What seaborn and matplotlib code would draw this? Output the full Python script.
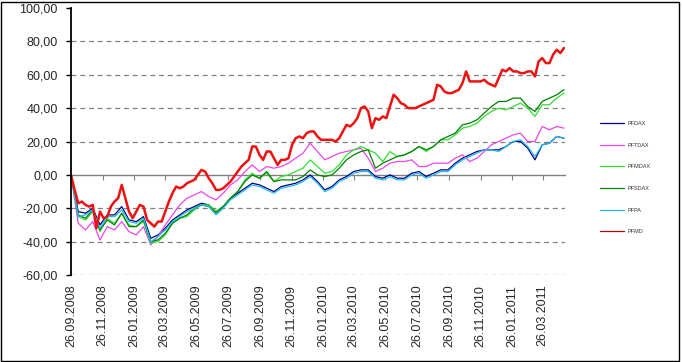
import pandas as pd
import seaborn as sns
import matplotlib.pyplot as plt
import matplotlib.dates as mdates
from matplotlib.patches import Rectangle
from matplotlib.ticker import FuncFormatter

# Wertentwicklung in %, Start 26.09.2008
start = pd.Timestamp("2008-09-26")

pfmd = [0, -9, -17, -16, -18, -19, -18, -32, -22, -26, -25, -19, -16, -14, -6, -14,
        -22, -26, -22, -18, -19, -27, -29, -31, -28, -28, -22, -16, -11, -7, -8, -7,
        -5, -4, -3, 0, 3, 2, -2, -5, -9, -9, -8, -6, -4, -1, 2, 5, 7, 9,
        17, 17, 12, 9, 14, 14, 10, 6, 9, 9, 10, 18, 22, 23, 22, 25, 26, 26,
        23, 21, 21, 21, 21, 20, 22, 26, 30, 29, 31, 34, 40, 41, 38, 28, 34, 33,
        35, 34, 41, 48, 46, 43, 42, 40, 40, 40, 41, 42, 43, 44, 45, 54, 53, 50,
        49, 49, 50, 51, 55, 62, 56, 56, 56, 56, 57, 55, 54, 53, 58, 63, 62, 64,
        62, 62, 61, 61, 62, 62, 59, 68, 70, 67, 67, 72, 75, 73, 76]

pfdax = [0, -22, -23, -20, -30, -24, -24, -19, -27, -28, -25, -38, -36, -32, -27, -24,
         -21, -19, -17, -18, -22, -19, -14, -11, -8, -5, -6, -8, -10, -7, -6, -5,
         -3, 0, -4, -9, -7, -3, -1, 2, 3, 3, -1, -2, 0, -2, -2, 1, 2, -1,
         1, 3, 3, 7, 10, 12, 14, 15, 15, 15, 17, 20, 20, 16, 9, 18, 19, 23, 22]
pftdax = [0, -29, -33, -28, -39, -31, -33, -28, -34, -36, -31, -42, -37, -30, -24, -18,
          -14, -12, -10, -13, -15, -11, -6, -3, 2, 6, 2, 5, 4, 5, 7, 10,
          13, 19, 14, 9, 11, 13, 14, 15, 16, 10, 2, 4, 7, 8, 8, 9, 5, 5,
          7, 7, 7, 10, 12, 8, 10, 14, 18, 20, 22, 24, 25, 20, 20, 29, 27, 29, 28]
pfmdax = [0, -25, -27, -22, -34, -26, -29, -23, -30, -31, -28, -41, -40, -36, -29, -26,
          -25, -21, -18, -18, -22, -19, -14, -10, -3, 1, -2, 1, -4, -1, 0, 2,
          4, 9, 5, 1, 2, 6, 12, 15, 17, 15, 13, 8, 14, 11, 12, 14, 17, 14,
          17, 21, 21, 24, 28, 29, 31, 35, 38, 40, 39, 41, 43, 40, 35, 42, 42, 46, 49]
pfsdax = [0, -24, -26, -21, -33, -27, -30, -23, -31, -31, -27, -40, -39, -35, -29, -26,
          -24, -20, -18, -19, -23, -19, -14, -10, -4, 0, -2, 2, -4, -3, -3, -3,
          -1, 3, 0, -1, 0, 4, 9, 12, 14, 15, 4, 7, 9, 11, 12, 14, 17, 15,
          17, 21, 23, 25, 30, 31, 33, 37, 41, 44, 44, 46, 46, 41, 38, 44, 46, 48, 51]
pfpa = [0, -25, -24, -21, -32, -25, -25, -21, -28, -29, -26, -40, -37, -33, -28, -25,
        -22, -20, -18, -19, -24, -20, -15, -12, -9, -6, -7, -9, -11, -8, -7, -6,
        -4, -1, -5, -10, -8, -4, -2, 1, 2, 2, -2, -3, -1, -3, -3, 0, 1, -2,
        0, 2, 2, 6, 9, 11, 13, 15, 15, 14, 17, 20, 21, 17, 11, 18, 19, 23, 22]

namen = ["PFDAX", "PFTDAX", "PFMDAX", "PFSDAX", "PFPA", "PFMD"]
farben = ["#000080", "#EE44EE", "#33DD33", "#008000", "#22BBEE", "#EE1111"]

woechentlich = pd.date_range(start, periods=len(pfmd), freq="7D")
zweiwoechentlich = pd.date_range(start, periods=len(pfdax), freq="14D")
tick_daten = [start + pd.DateOffset(months=2 * k) for k in range(16)]

sns.set_style("white")
plt.rcParams["font.family"] = ["Liberation Sans", "DejaVu Sans"]

fig = plt.figure(figsize=(6.82, 3.62), dpi=100)
ax = fig.add_axes([71 / 682, 1 - 275 / 362, (565 - 71) / 682, (275 - 8) / 362])

reihen = [pfdax, pftdax, pfmdax, pfsdax, pfpa, pfmd]
for name, werte, farbe in zip(namen, reihen, farben):
    x = woechentlich if name == "PFMD" else zweiwoechentlich
    lw = 1.8 if name == "PFMD" else 0.9
    sns.lineplot(x=x, y=werte, color=farbe, lw=lw, label=name, ax=ax)

if ax.get_legend() is not None:
    ax.get_legend().remove()

ax.set_xlim(start, woechentlich[-1] + pd.Timedelta(days=2))
ax.set_ylim(-60, 100)
ax.set_yticks(range(-60, 101, 20))
ax.yaxis.set_major_formatter(FuncFormatter(lambda v, p: f"{v:.2f}".replace(".", ",")))
ax.set_xticks(tick_daten)
ax.xaxis.set_major_formatter(mdates.DateFormatter("%d.%m.%Y"))
ax.set_xlabel("")
ax.set_ylabel("")

ax.grid(axis="y", color="#808080", lw=0.9, ls=(0, (4, 3)))
ax.grid(axis="x", visible=False)
grid = ax.get_ygridlines()
grid[3].set_visible(False)
grid[-1].set_visible(False)

for s in ["top", "right", "bottom"]:
    ax.spines[s].set_visible(False)
ax.spines["left"].set_color("black")
ax.spines["left"].set_linewidth(1.3)
ax.tick_params(axis="y", direction="out", length=3.5, width=1, color="black",
               labelsize=9, pad=6, left=True)
ax.tick_params(axis="x", length=0, pad=7, labelsize=9, labelrotation=90)

# Kategorienachse bei 0
sek = ax.secondary_xaxis(0, transform=ax.transData)
sek.set_xticks(mdates.date2num(tick_daten))
sek.tick_params(length=3.5, color="#808080", labelbottom=False, labeltop=False)
for sp in sek.spines.values():
    sp.set_color("#808080")
    sp.set_linewidth(1)

handles, labels = ax.get_legend_handles_labels()
leg = fig.legend(handles, labels, loc="upper left", bbox_to_anchor=(600 / 682, 1 - 121 / 362),
                 frameon=False, fontsize=4, handlelength=4.3, labelspacing=3.0,
                 handletextpad=0.7, borderpad=0, borderaxespad=0)
for h in leg.get_lines():
    h.set_linewidth(0.9)
leg.get_lines()[-1].set_color("#C00000")
for t in leg.get_texts():
    t.set_color("#333333")

fig.add_artist(Rectangle((1 / 682, 1 / 362), 678 / 682, 359 / 362, transform=fig.transFigure,
                         fill=False, edgecolor="black", lw=1))

plt.savefig("out.png", dpi=100)
